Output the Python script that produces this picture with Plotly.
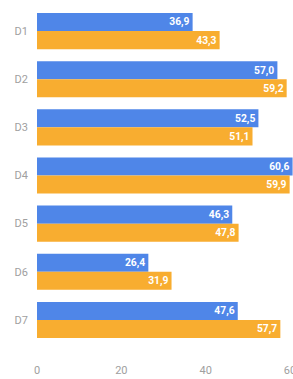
import plotly.graph_objects as go

categories = ["D1", "D2", "D3", "D4", "D5", "D6", "D7"]
series_a = [36.9, 57.0, 52.5, 60.6, 46.3, 26.4, 47.6]
series_b = [43.3, 59.2, 51.1, 59.9, 47.8, 31.9, 57.7]
x_ticks = [0, 20, 40, 60]

blue = "#4f86e8"
orange = "#f8ad30"

fig = go.Figure()
for vals, col in [(series_a, blue), (series_b, orange)]:
    fig.add_trace(go.Bar(y=categories, x=vals, orientation="h", marker_color=col,
                         textposition="inside", insidetextanchor="end",
                         texttemplate="%{x:.1f}",
                         textfont=dict(color="white", size=12, family="Roboto", weight="bold"),
                         marker_line_width=0))

fig.update_layout(
    width=293, height=379,
    margin=dict(l=37, r=0, t=7, b=35),
    barmode="group", bargap=0.25, bargroupgap=0,
    showlegend=False,
    plot_bgcolor="white", paper_bgcolor="white",
    separators=", ",
    uniformtext=dict(minsize=8, mode="show"),
    font=dict(family="Roboto", color="#9a9a9a", size=11),
)
fig.update_xaxes(range=[0, 60.7], tickvals=x_ticks, showgrid=False, zeroline=False,
                 showline=False, ticks="", ticklabelstandoff=18, automargin=False,
                 ticklabeloverflow="allow",
                 tickfont=dict(size=11, color="#a0a0a0"))
fig.update_yaxes(autorange="reversed", showgrid=False, zeroline=False, showline=False,
                 ticks="", ticklabelstandoff=8, automargin=False,
                 tickfont=dict(size=11, color="#a0a0a0"))

fig.write_html("out.html", config={"displayModeBar": False},
               post_script="document.body.style.margin='0';document.body.style.overflow='hidden';")
